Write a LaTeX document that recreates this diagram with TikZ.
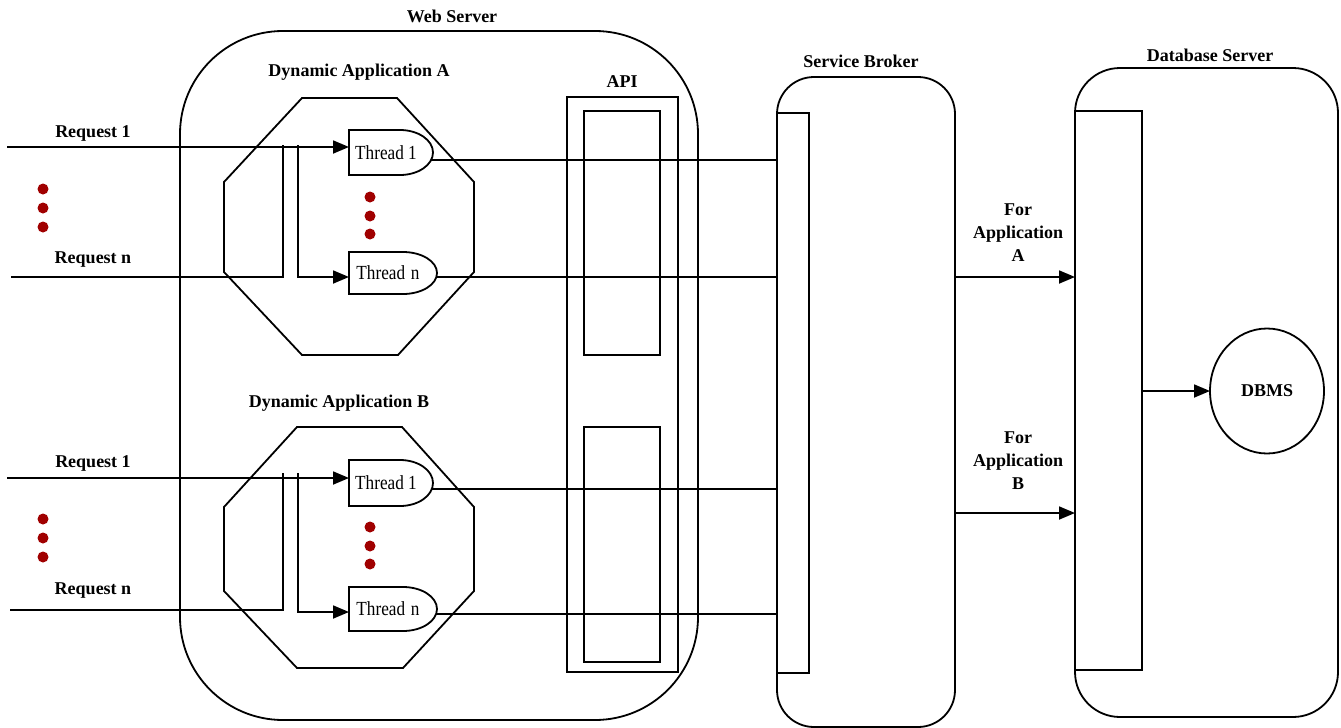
\documentclass[tikz,border=0pt]{standalone}
\usepackage{fontspec}
\setmainfont{Liberation Serif}
\usetikzlibrary{arrows.meta,shapes.geometric}
\definecolor{dotred}{HTML}{A00000}
\newcommand\thrdshape[3]{\draw[ln] (#1.north west) -- ([xshift=-#2]#1.north east) arc[start angle=90,end angle=-90,x radius=#2,y radius=#3] -- (#1.south west) -- cycle;}
\newcommand\thrdtext[1]{\scalebox{0.86}[1]{\fontsize{20}{22}\selectfont #1}}
\begin{document}
\begin{tikzpicture}[x=1pt,y=-1pt,
  ln/.style={line width=1.8pt},
  arr/.style={ln,-{Triangle[length=16pt,width=13pt]}},
  ttl/.style={font=\fontsize{18}{23}\selectfont\bfseries, inner sep=0pt, align=center},
  thr/.style={inner sep=0pt},
  hold/.style={inner sep=0pt, outer sep=0pt},
  box/.style={ln, draw, hold},
  dot/.style={circle, fill=dotred, inner sep=0pt, minimum size=11pt},
]
\fill[white] (0,0) rectangle (1341,728);
\useasboundingbox (0,0) rectangle (1341,728);

% containers
\node[box, rounded corners=103pt, minimum width=518pt, minimum height=689pt] (web) at (439,375.5) {};
\node[box, rounded corners=37pt, minimum width=178pt, minimum height=650pt] (sb) at (866,402) {};
\node[box, rounded corners=45pt, minimum width=263pt, minimum height=649pt] (db) at (1206.5,392.5) {};
\node[box, minimum width=111pt, minimum height=575pt] (api) at (622.5,384.5) {};
\node[box, minimum width=76pt, minimum height=244pt] (apia) at (622,233) {};
\node[box, minimum width=76pt, minimum height=235pt] (apib) at (622,544.5) {};
\node[box, minimum width=32pt, minimum height=560pt] (sbin) at (793,393) {};
\node[box, minimum width=67pt, minimum height=559pt] (dbin) at (1108.5,390.5) {};
\node[box, ellipse, minimum width=114pt, minimum height=125pt] (dbms) at (1267,391) {};
\node[ttl] (dbmsl) at (1267,391) {DBMS};

% octagons
\draw[ln] (302,98) -- (397,98) -- (474,182) -- (474,272) -- (398,355) -- (302,355) -- (224,272) -- (224,182) -- cycle;
\draw[ln] (297,427) -- (402,427) -- (474,507) -- (474,591) -- (403,668) -- (297,668) -- (224,591) -- (224,507) -- cycle;

% threads
\node[hold, minimum width=84pt, minimum height=45pt] (t1a) at (391,152.5) {};
\node[hold, minimum width=88pt, minimum height=42pt] (tna) at (393,273) {};
\node[hold, minimum width=84pt, minimum height=46pt] (t1b) at (391,483) {};
\node[hold, minimum width=88pt, minimum height=44pt] (tnb) at (393,609) {};
\thrdshape{t1a}{33pt}{22.5pt}
\thrdshape{tna}{34pt}{21pt}
\thrdshape{t1b}{33pt}{23pt}
\thrdshape{tnb}{34pt}{22pt}
\node[thr] (t1al) at (386,152.5) {\thrdtext{Thread 1}};
\node[thr] (tnal) at (388,273) {\thrdtext{Thread\,\,n}};
\node[thr] (t1bl) at (386,483) {\thrdtext{Thread 1}};
\node[thr] (tnbl) at (388,609) {\thrdtext{Thread\,\,n}};

% titles
\node[ttl] (webl) at (452,16) {Web Server};
\node[ttl] (dal) at (359,72) {Dynamic Application A};
\node[ttl] (dbl) at (339,403) {Dynamic Application B};
\node[ttl] (apil) at (622,82) {API};
\node[ttl] (sbl) at (861,61) {Service Broker};
\node[ttl] (dbsl) at (1210,55) {Database Server};
\node[ttl] (fa) at (1018,232.5) {For\\Application\\A};
\node[ttl] (fb) at (1018,460.5) {For\\Application\\B};
\node[ttl] (rq1a) at (93,133) {Request 1};
\node[ttl] (rqna) at (93,260) {Request n};
\node[ttl] (rq1b) at (93,463) {Request 1};
\node[ttl] (rqnb) at (93,591) {Request n};

% dots
\foreach \i/\x/\y in {1/43/189,2/43/208,3/43/227,4/370/197,5/370/216,6/370/234,
                      7/43/519,8/43/538,9/43/557,10/370/527,11/370/546,12/370/564}
  \node[dot] (d\i) at (\x,\y) {};

% request lines A
\coordinate (ra1) at (7,147);
\draw[arr] (ra1) -- (ra1 -| t1a.west);
\coordinate (ran) at (11,277);
\coordinate (ja) at (283,145);
\draw[ln] (ran) -- (ran -| ja) -- (ja);
\coordinate (ka) at (298,145);
\coordinate (ka2) at (298,277);
\draw[arr] (ka) -- (ka2) -- (ka2 -| tna.west);

% request lines B
\coordinate (rb1) at (7,478);
\draw[arr] (rb1) -- (rb1 -| t1b.west);
\coordinate (rbn) at (10,610);
\coordinate (jb) at (283,473);
\draw[ln] (rbn) -- (rbn -| jb) -- (jb);
\coordinate (kb) at (298,473);
\coordinate (kb2) at (298,612);
\draw[arr] (kb) -- (kb2) -- (kb2 -| tnb.west);

% thread outputs
\draw[ln] ([xshift=-2pt,yshift=-7.5pt]t1a.east) -- ([yshift=-7.5pt]t1a.east -| sbin.west);
\draw[ln] ([xshift=-1pt,yshift=-4pt]tna.east) -- ([yshift=-4pt]tna.east -| sbin.west);
\draw[ln] ([xshift=-2pt,yshift=-6pt]t1b.east) -- ([yshift=-6pt]t1b.east -| sbin.west);
\draw[ln] ([xshift=-1pt,yshift=-5pt]tnb.east) -- ([yshift=-5pt]tnb.east -| sbin.west);

% broker to database
\coordinate (oa) at (955,277);
\coordinate (ob) at (955,513);
\draw[arr] (oa) -- (oa -| dbin.west);
\draw[arr] (ob) -- (ob -| dbin.west);
\draw[arr] (dbin.east |- dbms.west) -- (dbms.west);
\end{tikzpicture}
\end{document}
